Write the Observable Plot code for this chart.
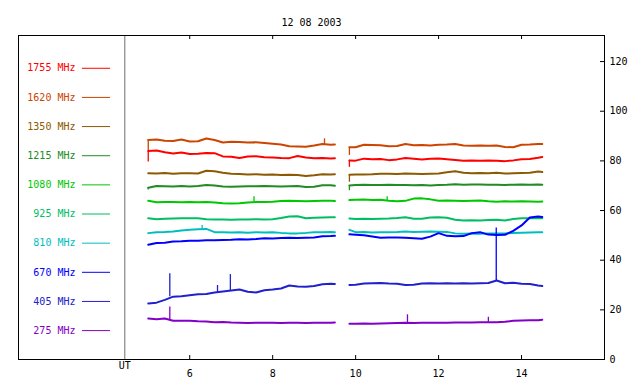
<!DOCTYPE html>
<html>
<head>
<meta charset="utf-8">
<script src="https://cdn.jsdelivr.net/npm/d3@7"></script>
<script src="https://cdn.jsdelivr.net/npm/@observablehq/plot@0.6"></script>
<style>
  html, body { margin: 0; padding: 0; background: #fff; }
  #chart svg { display: block; }
</style>
</head>
<body>
<div id="chart"></div>
<script>
const title = "12 08 2003";
const freqs = ["1755", "1620", "1350", "1215", "1080", "925", "810", "670", "405", "275"];
const colors = ["#ff0000", "#cc4400", "#8c5a00", "#228b22", "#00c800", "#00be64", "#00bebe", "#0000ff", "#2020cc", "#8200c8"];
const xTicks = [6, 8, 10, 12, 14];
const yTicks = [0, 20, 40, 60, 80, 100, 120];

// time grids (UT hours) for the two observing segments
const t1 = [5.0,5.2,5.4,5.6,5.8,6.0,6.2,6.4,6.6,6.8,7.0,7.2,7.4,7.6,7.8,8.0,8.2,8.4,8.6,8.8,9.0,9.2,9.4,9.5];
const t2 = [9.85,10.0,10.2,10.4,10.6,10.8,11.0,11.2,11.4,11.6,11.8,12.0,12.2,12.4,12.6,12.8,13.0,13.2,13.4,13.6,13.8,14.0,14.2,14.4,14.5];

const v1755a = [84.0,84.2,83.5,83.0,83.4,82.8,82.9,83.2,83.1,81.8,81.7,81.2,81.8,81.9,81.5,81.4,81.2,81.1,82.0,81.4,81.1,81.2,81.0,81.1];
const v1755b = [80.2,80.1,80.9,80.7,80.8,80.3,80.6,81.2,80.9,80.6,80.9,81.0,80.7,80.4,80.1,80.2,80.1,80.2,80.1,79.9,80.2,80.7,80.8,81.3,81.6];
const v1620a = [88.4,88.6,88.1,88.0,88.6,87.8,87.9,89.0,88.4,87.4,87.7,87.6,87.4,87.5,87.2,86.9,86.6,85.9,85.8,85.7,86.2,86.8,86.5,86.6];
const v1620b = [85.5,85.5,86.5,86.4,86.3,85.9,86.0,86.8,86.3,86.4,86.2,86.5,86.6,86.8,86.2,86.1,86.2,86.1,86.2,85.6,85.5,86.5,86.6,86.8,86.8];
const v1350a = [75.0,74.9,75.1,74.8,75.0,75.0,74.9,76.0,75.8,75.2,74.8,74.7,74.5,74.6,74.4,74.5,74.3,74.4,74.3,73.9,74.2,74.6,74.5,74.6];
const v1350b = [74.4,74.5,74.5,74.6,74.8,74.8,74.7,74.9,74.8,74.7,74.8,74.9,75.4,75.8,75.2,75.0,75.1,75.0,75.2,74.9,75.0,75.1,75.2,75.7,75.5];
const v1215a = [69.2,69.9,69.8,69.7,69.9,69.7,69.9,70.3,70.1,69.7,69.6,69.7,69.8,69.8,69.9,69.8,69.7,69.8,69.9,69.5,69.6,70.2,70.2,70.0];
const v1215b = [70.1,70.3,70.4,70.3,70.3,70.4,70.3,70.3,70.2,70.3,70.1,70.3,70.4,70.6,70.4,70.5,70.5,70.4,70.4,70.3,70.4,70.5,70.4,70.5,70.4];
const v1080a = [63.9,63.3,63.4,63.4,63.3,63.4,63.3,63.4,63.2,62.9,62.8,62.9,63.2,63.4,63.4,63.5,63.8,63.9,63.8,63.7,63.8,63.9,63.9,63.8];
const v1080b = [64.2,64.3,64.4,64.2,64.3,63.9,63.7,63.9,64.8,64.9,64.5,63.9,64.0,63.9,63.8,63.9,64.0,63.7,63.5,63.7,63.6,63.7,63.6,63.5,63.6];
const v925a  = [56.9,56.5,56.7,56.8,56.9,56.9,56.9,56.5,56.4,56.4,56.3,56.4,56.4,56.5,56.4,56.5,57.0,57.6,57.7,56.9,57.1,57.2,57.3,57.3];
const v925b  = [56.8,56.6,56.7,56.6,56.7,56.8,57.0,57.3,56.7,56.7,57.2,57.3,57.1,56.3,56.0,56.1,56.0,56.2,56.3,56.0,56.6,56.9,56.9,57.0,56.9];
const v810a  = [50.9,51.3,51.4,51.6,52.0,52.3,52.5,52.6,51.3,51.3,51.2,51.3,51.1,51.3,51.2,51.3,51.0,50.8,50.8,51.0,51.3,51.3,51.4,51.3];
const v810b  = [52.2,51.3,51.4,51.2,51.3,51.3,51.4,51.6,51.4,51.5,51.6,51.5,51.4,50.8,50.6,50.7,50.6,50.8,50.7,50.8,51.0,51.1,51.2,51.3,51.3];
const v670a  = [46.2,46.9,47.0,47.5,47.6,47.8,47.8,48.0,48.0,48.1,48.2,48.4,48.3,48.5,48.8,48.7,48.9,49.0,48.9,49.0,49.1,49.6,49.7,49.8];
const v670b  = [50.4,50.2,50.0,49.5,49.0,49.1,49.1,49.0,48.8,48.6,49.5,50.9,49.8,49.6,49.7,50.9,51.3,50.3,50.1,50.2,51.8,54.0,57.2,57.6,57.4];
const v405a  = [22.6,22.9,24.0,25.3,25.5,25.9,26.3,26.4,27.0,27.4,27.8,28.2,27.3,27.0,27.9,28.2,28.6,29.8,29.4,29.3,29.6,30.3,30.5,30.4];
const v405b  = [30.0,30.1,30.6,30.7,30.8,30.6,30.5,30.0,30.1,30.6,30.7,30.6,30.7,30.6,30.7,30.6,30.7,30.8,31.8,30.7,30.9,30.5,30.4,29.8,29.6];
const v275a  = [16.5,16.2,16.5,15.6,15.6,15.6,15.4,15.3,15.0,15.1,14.9,14.8,14.7,14.8,14.8,14.8,14.7,14.8,14.8,14.7,14.8,14.8,14.8,14.9];
const v275b  = [14.4,14.4,14.5,14.4,14.5,14.6,14.7,14.8,14.7,14.8,14.8,14.8,14.8,14.9,14.9,14.9,15.0,15.0,15.0,15.2,15.6,15.7,15.8,15.8,16.0];

// short spikes and start-of-segment steps
const spikeFreq = ["405", "405", "405", "275", "670", "1620", "1080", "1080", "810", "275", "275", "1620", "1755", "1620", "1755", "1350", "1215", "1215"];
const spikeT    = [5.52, 6.67, 6.98, 5.52, 13.39, 9.25, 7.55, 10.76, 6.3, 11.25, 13.2, 5.0, 5.0, 9.85, 9.85, 9.85, 9.85, 5.0];
const spikeLo   = [25.3, 27.0, 27.8, 15.6, 31.8, 86.7, 63.4, 64.0, 52.5, 14.8, 15.0, 84.2, 79.5, 82.2, 77.4, 71.4, 68.0, 68.3];
const spikeHi   = [34.5, 29.8, 34.2, 21.1, 53.0, 88.9, 65.6, 65.6, 54.0, 18.0, 17.0, 88.4, 84.0, 85.5, 80.2, 74.4, 70.1, 69.2];

const seriesA = [v1755a, v1620a, v1350a, v1215a, v1080a, v925a, v810a, v670a, v405a, v275a];
const seriesB = [v1755b, v1620b, v1350b, v1215b, v1080b, v925b, v810b, v670b, v405b, v275b];

// layout
const W = 640, H = 384, ML = 18, MR = 36, MT = 35, MB = 25;
const X0 = 1.872, X1 = 16.0, Y0 = 0, Y1 = 130.5;
const px2x = p => X0 + (p - ML) / (W - ML - MR) * (X1 - X0);
const px2dy = p => p / (H - MT - MB) * (Y1 - Y0);
const SEP = px2x(124.3);
const FONT = "DejaVu Sans Mono";

const rows = [];
freqs.forEach((f, i) => {
  t1.forEach((t, j) => rows.push({f, seg: f + "a", t, v: seriesA[i][j], c: colors[i]}));
  t2.forEach((t, j) => rows.push({f, seg: f + "b", t, v: seriesB[i][j], c: colors[i]}));
});
const spikes = spikeFreq.map((f, i) => ({f, t: spikeT[i], lo: spikeLo[i], hi: spikeHi[i], c: colors[freqs.indexOf(f)]}));
const legend = freqs.map((f, i) => ({f, label: f + " MHz", y: 117.3 - i * 11.74, c: colors[i]}));

const lineMarks = freqs.map((f, i) =>
  Plot.line(rows.filter(d => d.f === f), {x: "t", y: "v", z: "seg", stroke: colors[i], strokeWidth: 2}));

const chart = Plot.plot({
  width: W, height: H,
  marginLeft: ML, marginRight: MR, marginTop: MT, marginBottom: MB,
  style: {fontFamily: FONT, fontSize: "10px", background: "#fff", color: "#000"},
  x: {domain: [X0, X1], axis: null, label: null},
  y: {domain: [Y0, Y1], axis: null, label: null},
  marks: [
    Plot.ruleX([SEP], {stroke: "#707070"}),
    ...lineMarks,
    Plot.ruleX(spikes, {x: "t", y1: "lo", y2: "hi", stroke: d => d.c, strokeWidth: 1.3}),
    // legend
    Plot.text(legend, {frameAnchor: "left", dx: 57, y: "y", text: "label", textAnchor: "end", fill: d => d.c, fontFamily: FONT, fontSize: 10}),
    Plot.ruleY(legend, {y: "y", x1: px2x(82), x2: px2x(110), stroke: d => d.c}),
    // axes
    Plot.ruleX(xTicks, {y1: Y0, y2: Y0 + px2dy(4), stroke: "#000"}),
    Plot.ruleX(xTicks, {y1: Y1 - px2dy(4), y2: Y1, stroke: "#000"}),
    Plot.ruleY(yTicks, {x1: px2x(600), x2: X1, stroke: "#000"}),
    Plot.axisX({ticks: xTicks, tickSize: 0, tickPadding: 10, label: null, tickFormat: d => String(d), fontFamily: FONT, fontSize: 10}),
    Plot.axisY({anchor: "right", ticks: yTicks, tickSize: 0, tickPadding: 5, label: null, tickFormat: d => String(d), fontFamily: FONT, fontSize: 10}),
    Plot.text(["UT"], {x: SEP, frameAnchor: "bottom", dy: 9, text: d => d, fontFamily: FONT, fontSize: 10, fill: "#000"}),
    Plot.text([title], {frameAnchor: "top", dy: -17, text: d => d, fontFamily: FONT, fontSize: 10, fill: "#000"}),
    Plot.frame({stroke: "#000"})
  ]
});
document.getElementById("chart").appendChild(chart);
</script>
</body>
</html>
